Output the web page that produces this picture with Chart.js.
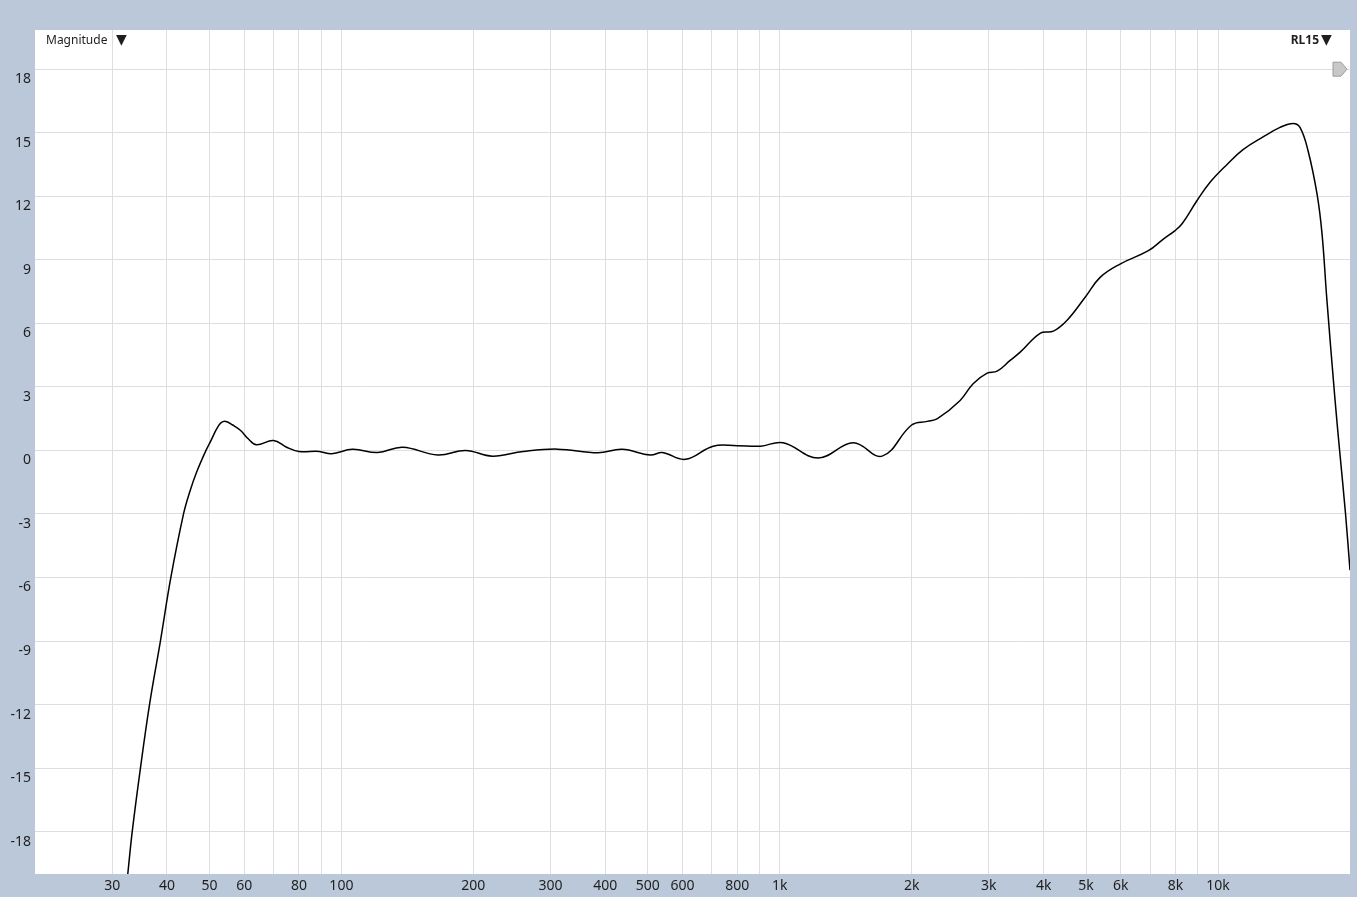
<!DOCTYPE html>
<html>
<head>
<meta charset="utf-8">
<title>Magnitude</title>
<script src="https://cdn.jsdelivr.net/npm/chart.js@4/dist/chart.umd.min.js"></script>
<style>
  html, body { margin: 0; padding: 0; background: #bac8d9; overflow: hidden; }
  canvas { display: block; }
</style>
</head>
<body>
<canvas id="fr" width="1357" height="897"></canvas>
<script>
// frequency response (Hz / dB)
var freqs = [30, 32.56, 33.33, 34.8, 36.5, 38.65, 40.83, 43.64, 45.02, 46.8, 49.1, 50.5, 51.9, 53.1, 54.5, 56.5, 58.9, 61.3, 64, 70, 75, 80, 89, 95,
  106, 121, 138, 166, 192, 221, 260, 311, 385, 437, 507, 540, 609, 705, 800, 903, 1018, 1224, 1471, 1713,
  2000, 2170, 2290, 2580, 2762, 2973, 3133, 3355, 3537, 3927, 4211, 4519, 4975, 5382, 5977, 6934, 7503, 7979, 8277, 8956,
  9590, 10484, 11403, 12665, 13849, 14830, 15381, 16044, 16822, 17272, 17700, 18492, 18937, 19538, 20000];
var magnitude = [-27, -20, -18, -15, -12, -9, -6, -3, -2, -1, 0, 0.5, 1.0, 1.3, 1.37, 1.2, 0.94, 0.55, 0.27, 0.47, 0.15, -0.05, -0.05, -0.16,
  0.05, -0.1, 0.15, -0.22, 0.0, -0.27, -0.05, 0.06, -0.11, 0.05, -0.22, -0.1, -0.42, 0.2, 0.22, 0.2, 0.36, -0.36, 0.36, -0.27,
  1.2, 1.37, 1.5, 2.36, 3.15, 3.65, 3.74, 4.25, 4.64, 5.53, 5.63, 6.13, 7.23, 8.17, 8.8, 9.43, 9.98, 10.38, 10.7, 11.8,
  12.66, 13.5, 14.2, 14.8, 15.25, 15.44, 15.25, 14.15, 12.1, 10.2, 7.2, 2.36, 0, -3, -5.66];

var xTicks = [30, 40, 50, 60, 70, 80, 90, 100, 200, 300, 400, 500, 600, 700, 800, 900,
  1000, 2000, 3000, 4000, 5000, 6000, 7000, 8000, 9000, 10000];
var xLabels = ["30", "40", "50", "60", "", "80", "", "100", "200", "300", "400", "500", "600", "", "800", "",
  "1k", "2k", "3k", "4k", "5k", "6k", "", "8k", "", "10k"];
var yTicks = [-18, -15, -12, -9, -6, -3, 0, 3, 6, 9, 12, 15, 18];

var frame = "#bac8d9";
var gridColor = "#dcdee4";
var textColor = "#1e1e1e";
var font = "'Noto Sans', 'DejaVu Sans', sans-serif";

var points = freqs.map(function (f, i) { return { x: f, y: magnitude[i] }; });

var panel = {
  id: "panel",
  beforeDraw: function (chart) {
    var c = chart.ctx, a = chart.chartArea;
    c.save();
    c.fillStyle = frame;
    c.fillRect(0, 0, chart.width, chart.height);
    c.fillStyle = "#ffffff";
    c.fillRect(a.left, a.top, a.right - a.left, a.bottom - a.top);
    c.restore();
  },
  afterDraw: function (chart) {
    var c = chart.ctx, a = chart.chartArea;
    c.save();
    c.fillStyle = textColor;
    c.textBaseline = "alphabetic";
    c.font = "12px " + font;
    c.textAlign = "left";
    c.fillText("Magnitude", a.left + 11, a.top + 14);
    c.font = "bold 12px " + font;
    c.textAlign = "right";
    c.fillText("RL15", a.right - 31, a.top + 14);
    c.font = "14px 'DejaVu Sans', sans-serif";
    c.textAlign = "left";
    c.fillText("\u25BC", a.left + 81, a.top + 14);
    c.fillText("\u25BC", a.right - 29, a.top + 14);
    // grey marker at the right edge
    var ym = chart.scales.y.getPixelForValue(18);
    var xr = a.right - 3;
    c.beginPath();
    c.moveTo(xr - 14, ym - 7);
    c.lineTo(xr - 6, ym - 7);
    c.lineTo(xr, ym);
    c.lineTo(xr - 6, ym + 7);
    c.lineTo(xr - 14, ym + 7);
    c.closePath();
    c.fillStyle = "#c8c8c8";
    c.fill();
    c.strokeStyle = "#9c9c9c";
    c.lineWidth = 1;
    c.stroke();
    c.restore();
  }
};

new Chart(document.getElementById("fr").getContext("2d"), {
  type: "line",
  data: {
    datasets: [{
      label: "RL15",
      data: points,
      borderColor: "#000000",
      borderWidth: 1.5,
      pointRadius: 0,
      fill: false,
      tension: 0.4
    }]
  },
  options: {
    responsive: false,
    animation: false,
    events: [],
    layout: { padding: { top: 30, right: 7, left: 0, bottom: 0 } },
    plugins: { legend: { display: false }, tooltip: { enabled: false } },
    scales: {
      x: {
        type: "logarithmic",
        min: 20,
        max: 20000,
        border: { display: false },
        grid: { color: gridColor, lineWidth: 1, drawTicks: false },
        afterBuildTicks: function (s) { s.ticks = xTicks.map(function (v) { return { value: v }; }); },
        afterFit: function (s) { s.height = 23; },
        ticks: {
          autoSkip: false,
          maxRotation: 0,
          minRotation: 0,
          padding: 4,
          color: textColor,
          font: { family: font, size: 14 },
          callback: function (v, i) { return xLabels[i]; }
        }
      },
      y: {
        min: -20,
        max: 19.85,
        border: { display: false },
        grid: { color: gridColor, lineWidth: 1, drawTicks: false },
        afterBuildTicks: function (s) { s.ticks = yTicks.map(function (v) { return { value: v }; }); },
        afterFit: function (s) { s.width = 35; },
        ticks: {
          padding: 4,
          labelOffset: 10,
          color: textColor,
          font: { family: font, size: 14 },
          callback: function (v) { return String(v); }
        }
      }
    }
  },
  plugins: [panel]
});
</script>
</body>
</html>
